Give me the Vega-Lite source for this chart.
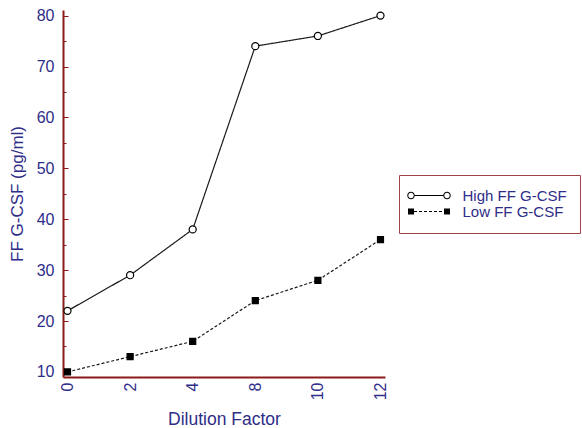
{
  "$schema": "https://vega.github.io/schema/vega-lite/v6.json",
  "width": 322,
  "height": 367,
  "autosize": "none",
  "padding": {"left": 63, "top": 10, "right": 197, "bottom": 51},
  "background": "white",
  "config": {"view": {"stroke": null}, "font": "Liberation Sans"},
  "data": {
    "values": [
      {"dilution": "0", "level": 22, "series": "High FF G-CSF"},
      {"dilution": "2", "level": 29, "series": "High FF G-CSF"},
      {"dilution": "4", "level": 38, "series": "High FF G-CSF"},
      {"dilution": "8", "level": 74, "series": "High FF G-CSF"},
      {"dilution": "10", "level": 76, "series": "High FF G-CSF"},
      {"dilution": "12", "level": 80, "series": "High FF G-CSF"},
      {"dilution": "0", "level": 10, "series": "Low FF G-CSF"},
      {"dilution": "2", "level": 13, "series": "Low FF G-CSF"},
      {"dilution": "4", "level": 16, "series": "Low FF G-CSF"},
      {"dilution": "8", "level": 24, "series": "Low FF G-CSF"},
      {"dilution": "10", "level": 28, "series": "Low FF G-CSF"},
      {"dilution": "12", "level": 36, "series": "Low FF G-CSF"}
    ]
  },
  "encoding": {
    "x": {
      "field": "dilution",
      "type": "ordinal",
      "sort": ["0", "2", "4", "8", "10", "12"],
      "scale": {"type": "point", "padding": 0.072},
      "axis": {
        "title": "Dilution Factor",
        "titleColor": "#2e2d88",
        "titleFontSize": 17.5,
        "titleFontWeight": "normal",
        "titlePadding": 11,
        "labelColor": "#2e2d88",
        "labelFontSize": 16,
        "labelAngle": 270,
        "labelPadding": 5,
        "ticks": false,
        "domainColor": "#8b1a1a",
        "domainWidth": 2,
        "grid": false
      }
    }
  },
  "layer": [
    {
      "mark": {"type": "line", "color": "#1a1a1a", "strokeWidth": 1.2},
      "encoding": {
        "y": {
          "field": "level",
          "type": "quantitative",
          "scale": {"domain": [9, 81.1], "nice": false, "zero": false},
          "axis": {
            "title": "FF G-CSF (pg/ml)",
            "titleColor": "#2e2d88",
            "titleFontSize": 17,
            "titleFontWeight": "normal",
            "titlePadding": 10,
            "labelColor": "#2e2d88",
            "labelFontSize": 16,
            "values": [10, 20, 30, 40, 50, 60, 70, 80],
            "tickSize": -5,
            "tickColor": "#8b1a1a",
            "labelPadding": 14,
            "domainColor": "#8b1a1a",
            "domainWidth": 2,
            "grid": false,
            "orient": "left"
          }
        },
        "strokeDash": {
          "field": "series",
          "type": "nominal",
          "scale": {"domain": ["High FF G-CSF", "Low FF G-CSF"], "range": [[1, 0], [3, 2]]},
          "legend": null
        },
        "detail": {"field": "series"}
      }
    },
    {
      "mark": {"type": "point", "filled": true, "stroke": "black", "strokeWidth": 1.2, "opacity": 1},
      "encoding": {
        "y": {
          "field": "level",
          "type": "quantitative",
          "axis": {
            "title": null,
            "labels": false,
            "domain": false,
            "grid": false,
            "values": [15, 25, 35, 45, 55, 65, 75],
            "tickSize": -3,
            "tickColor": "#8b1a1a",
            "orient": "left"
          }
        },
        "shape": {
          "field": "series",
          "type": "nominal",
          "scale": {"domain": ["High FF G-CSF", "Low FF G-CSF"], "range": ["circle", "square"]},
          "legend": null
        },
        "fill": {
          "field": "series",
          "type": "nominal",
          "scale": {"domain": ["High FF G-CSF", "Low FF G-CSF"], "range": ["white", "black"]},
          "legend": null
        },
        "size": {
          "field": "series",
          "type": "nominal",
          "scale": {"domain": ["High FF G-CSF", "Low FF G-CSF"], "range": [50, 36]},
          "legend": null
        }
      }
    },
    {
      "mark": {"type": "point", "filled": true, "color": "black", "opacity": 0, "size": 100},
      "encoding": {
        "y": {"field": "level", "type": "quantitative", "axis": null},
        "shape": {
          "field": "series",
          "type": "nominal",
          "scale": {
            "domain": ["High FF G-CSF", "Low FF G-CSF"],
            "range": [
              "M-2.85,0A0.75,0.75,0,1,1,-4.35,0A0.75,0.75,0,1,1,-2.85,0ZM-3.05,0A0.55,0.55,0,1,0,-4.15,0A0.55,0.55,0,1,0,-3.05,0ZM-2.85,-0.1L2.85,-0.1L2.85,0.1L-2.85,0.1ZM4.35,0A0.75,0.75,0,1,1,2.85,0A0.75,0.75,0,1,1,4.35,0ZM4.15,0A0.55,0.55,0,1,0,3.05,0A0.55,0.55,0,1,0,4.15,0Z",
              "M-4.2,-0.6L-3,-0.6L-3,0.6L-4.2,0.6ZM-3,-0.1L-2.4,-0.1L-2.4,0.1L-3,0.1ZM-2,-0.1L-1.4,-0.1L-1.4,0.1L-2,0.1ZM-1,-0.1L-0.4,-0.1L-0.4,0.1L-1,0.1ZM0,-0.1L0.6,-0.1L0.6,0.1L0,0.1ZM1,-0.1L1.6,-0.1L1.6,0.1L1,0.1ZM2,-0.1L2.6,-0.1L2.6,0.1L2,0.1ZM3,-0.6L4.2,-0.6L4.2,0.6L3,0.6Z"
            ]
          },
          "legend": {
            "title": null,
            "orient": "none",
            "legendX": 336,
            "legendY": 165,
            "strokeColor": "#a04448",
            "fillColor": "white",
            "padding": 13,
            "symbolSize": 100,
            "symbolOffset": 9.5,
            "labelOffset": 26,
            "symbolOpacity": 1,
            "symbolFillColor": "black",
            "symbolStrokeWidth": 0,
            "labelFontSize": 15,
            "labelColor": "#2e2d88",
            "rowPadding": -3
          }
        }
      }
    }
  ],
  "resolve": {"axis": {"y": "independent"}, "scale": {"shape": "independent"}}
}
